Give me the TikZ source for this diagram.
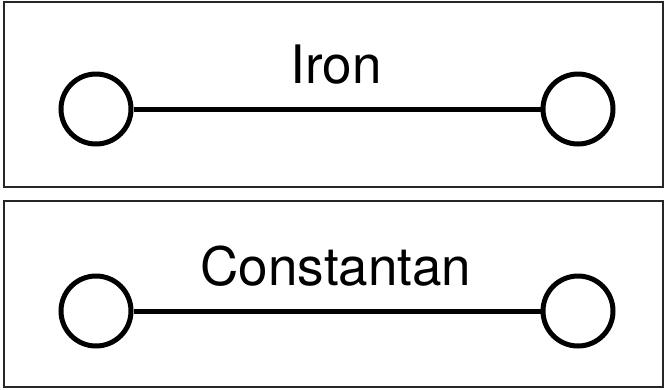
\documentclass[tikz,border=0pt]{standalone}
\usepackage{fontspec}
\setmainfont{TeX Gyre Heros}
\usepackage{tikz}

\tikzset{
    panel/.style={draw=black!85, line width=2pt},
    terminal/.style={circle, draw, line width=5pt, minimum size=70pt, inner sep=0pt, fill=white},
    wire/.style={line width=5pt},
    metal/.style={anchor=base, font=\fontsize{53}{60}\selectfont}
}

\begin{document}
\begin{tikzpicture}[x=1pt,y=-1pt]
    \useasboundingbox (0,0) rectangle (664,389);
    % iron panel
    \draw[panel] (4,2) rectangle (663,187);
    \node[metal] (iron) at (336,83) {Iron};
    \node[terminal] (ironL) at (96,109) {};
    \node[terminal] (ironR) at (578,109) {};
    \draw[wire] (ironL) -- (ironR);
    % constantan panel
    \draw[panel] (4,201) rectangle (663,387);
    \node[metal] (const) at (336,285) {Constantan};
    \node[terminal] (constL) at (96,311) {};
    \node[terminal] (constR) at (578,311) {};
    \draw[wire] (constL) -- (constR);
\end{tikzpicture}
\end{document}
